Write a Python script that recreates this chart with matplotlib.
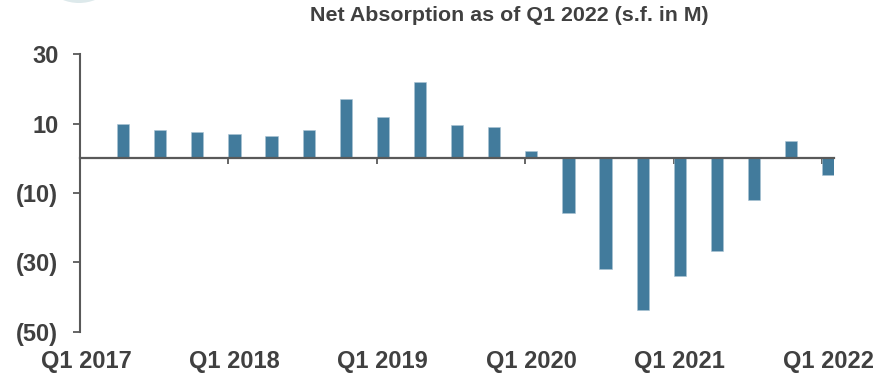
import matplotlib
matplotlib.use("Agg")
import matplotlib.pyplot as plt
from matplotlib.patches import Circle
import numpy as np

# data: quarterly net absorption, s.f. in millions (Q1 2017 blank)
quarters = ["Q1 2017", "Q2 2017", "Q3 2017", "Q4 2017",
            "Q1 2018", "Q2 2018", "Q3 2018", "Q4 2018",
            "Q1 2019", "Q2 2019", "Q3 2019", "Q4 2019",
            "Q1 2020", "Q2 2020", "Q3 2020", "Q4 2020",
            "Q1 2021", "Q2 2021", "Q3 2021", "Q4 2021",
            "Q1 2022"]
absorption = [0.0, 10.0, 8.1, 7.5,
              7.0, 6.5, 8.1, 17.0,
              12.0, 22.0, 9.5, 9.1,
              2.0, -15.8, -31.8, -43.7,
              -33.8, -26.8, -11.9, 5.0,
              -4.9]
yticks = [30, 10, -10, -30, -50]
ytick_labels = ["30", "10", "(10)", "(30)", "(50)"]

bar_color = "#427b9c"
text_color = "#404040"
axis_color = "#595959"
font = ["Liberation Sans", "DejaVu Sans"]

fig = plt.figure(figsize=(8.91, 3.73), dpi=100)
ax = fig.add_axes([0.0896, 0.1107, 0.8468, 0.7437])

# faint decorative circle peeking in at the top-left
fig.patches.append(Circle((79, 414), 44, transform=None, facecolor="#dde9eb",
                          edgecolor="none", zorder=0))

x = np.arange(len(quarters))
w = 0.33
ax.bar(x, absorption, width=w, color=bar_color, edgecolor="#a9c4d3",
       linewidth=0.4, zorder=2)

ax.set_xlim(-w / 2, len(quarters) - 1 + w / 2)
ax.set_ylim(-50, 30)

# y axis
ax.set_yticks(yticks)
ax.set_yticklabels(ytick_labels, fontsize=17, fontweight="bold",
                   color=text_color, family=font)
ax.tick_params(axis="y", direction="out", length=5, width=1.3,
               color=axis_color, pad=10.5)
ax.spines["left"].set_color(axis_color)
ax.spines["left"].set_linewidth(1.5)
ax.spines["top"].set_visible(False)
ax.spines["right"].set_visible(False)

# zero line acting as the category axis, with year tick marks
ax.spines["bottom"].set_position(("data", 0))
ax.spines["bottom"].set_color(axis_color)
ax.spines["bottom"].set_linewidth(1.6)
ax.spines["bottom"].set_zorder(3)
ax.set_xticks(x[::4] - w / 2)
ax.set_xticklabels([])
ax.tick_params(axis="x", direction="out", length=4.5, width=1.3,
               color=axis_color)

# year labels at the bottom of the plot area
sec = ax.secondary_xaxis(0.0)
sec.set_xticks(x[::4])
sec.set_xticklabels(quarters[::4], fontsize=17, fontweight="bold",
                    color=text_color, family=font)
sec.tick_params(axis="x", length=0, pad=13)
sec.spines["bottom"].set_visible(False)

fig.text(0.572, 0.958, "Net Absorption as of Q1 2022 (s.f. in M)",
         ha="center", va="center", fontsize=15.4, fontweight="bold",
         color=text_color, family=font)

fig.savefig("out.png", dpi=100)
plt.close(fig)
